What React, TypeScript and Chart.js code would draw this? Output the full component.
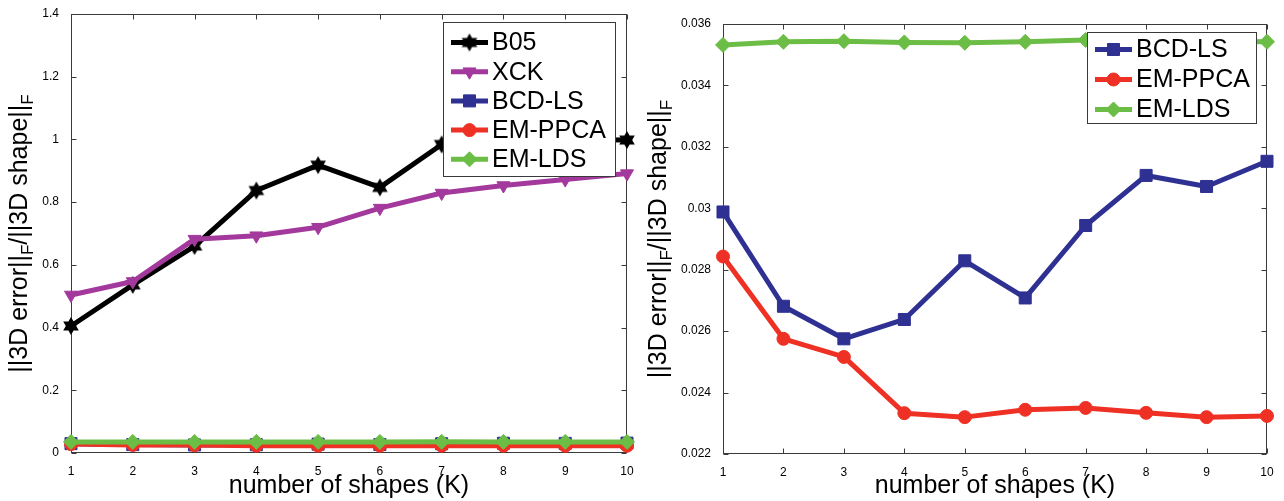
import React, { useEffect, useRef } from 'react';
import { Chart, registerables } from 'chart.js';
import { drawPoint } from 'chart.js/helpers';

Chart.register(...registerables);

// ---------- data ----------
const K = [1, 2, 3, 4, 5, 6, 7, 8, 9, 10];
const B05 = [0.405, 0.536, 0.66, 0.837, 0.918, 0.847, 0.984, 1.03, 1.0, 0.998];
const XCK = [0.504, 0.547, 0.682, 0.693, 0.72, 0.781, 0.829, 0.853, 0.872, 0.891];
const BCD_LS = [0.02988, 0.02681, 0.02575, 0.02638, 0.02829, 0.02708, 0.02944, 0.03107, 0.03071, 0.03153];
const EM_PPCA = [0.02843, 0.02575, 0.02516, 0.02333, 0.0232, 0.02344, 0.0235, 0.02334, 0.0232, 0.02324];
const EM_LDS = [0.03532, 0.03542, 0.03544, 0.0354, 0.03539, 0.03542, 0.03548, 0.03546, 0.03544, 0.03542];

const X_TICKS = [1, 2, 3, 4, 5, 6, 7, 8, 9, 10];
const Y_TICKS_LEFT = [0, 0.2, 0.4, 0.6, 0.8, 1, 1.2, 1.4];
const Y_TICKS_RIGHT = [0.022, 0.024, 0.026, 0.028, 0.03, 0.032, 0.034, 0.036];

const X_TITLE = 'number of shapes (K)';
const Y_TITLE_PARTS = [
  { t: '||3D error||', sub: false },
  { t: 'F', sub: true },
  { t: '/||3D shape||', sub: false },
  { t: 'F', sub: true },
];

const FONT = '"Liberation Sans", Arial, Helvetica, sans-serif';

const C_BLACK = '#000000';
const C_PURPLE = '#a3399c';
const C_NAVY = '#2e3192';
const C_RED = '#ee3124';
const C_GREEN = '#6cbd45';

function makeHexagram(color: string, R: number) {
  const size = Math.ceil(R * 2) + 2;
  const c = document.createElement('canvas');
  c.width = size;
  c.height = size;
  const ctx = c.getContext('2d')!;
  const cx = size / 2, cy = size / 2, r = R / Math.sqrt(3);
  ctx.beginPath();
  for (let i = 0; i < 12; i++) {
    const ang = -Math.PI / 2 + (i * Math.PI) / 6;
    const rad = i % 2 === 0 ? R : r;
    const x = cx + rad * Math.cos(ang), y = cy + rad * Math.sin(ang);
    if (i === 0) ctx.moveTo(x, y); else ctx.lineTo(x, y);
  }
  ctx.closePath();
  ctx.fillStyle = color;
  ctx.fill();
  return c;
}

type Spec = { label: string; color: string; values: number[]; pointStyle: any; radius: number; rotation?: number };

function seriesSpecs(): Record<string, Spec> {
  return {
    B05: { label: 'B05', color: C_BLACK, values: B05, pointStyle: makeHexagram(C_BLACK, 9), radius: 8 },
    XCK: { label: 'XCK', color: C_PURPLE, values: XCK, pointStyle: 'triangle', radius: 7.5, rotation: 180 },
    BCD: { label: 'BCD-LS', color: C_NAVY, values: BCD_LS, pointStyle: 'rect', radius: 8.5 },
    PPCA: { label: 'EM-PPCA', color: C_RED, values: EM_PPCA, pointStyle: 'circle', radius: 6.5 },
    LDS: { label: 'EM-LDS', color: C_GREEN, values: EM_LDS, pointStyle: 'rectRot', radius: 7.5 },
  };
}

type Cfg = {
  specs: Spec[];
  yTicks: number[];
  yMin: number;
  yMax: number;
  yAxisW: number;
  padTop: number;
  padRight: number;
  xAxisH: number;
  tickFont: number;
  legend: { x: number; y: number; w: number; h: number; first: number; step: number };
  yTitleX: number;
  xTitleY: number;
};

function fmt(v: number) {
  return parseFloat(Number(v).toFixed(4)).toString();
}

function createChart(canvas: HTMLCanvasElement, cfg: Cfg) {
  const n = cfg.specs.length;
  const datasets = cfg.specs.map((s, i) => ({
    label: s.label,
    data: K.map((k, j) => ({ x: k, y: s.values[j] })),
    borderColor: s.color,
    backgroundColor: s.color,
    pointBackgroundColor: s.color,
    pointBorderColor: s.color,
    borderWidth: 5,
    borderJoinStyle: 'round' as const,
    pointRadius: s.radius,
    pointStyle: s.pointStyle,
    pointRotation: s.rotation || 0,
    pointBorderWidth: 1,
    order: n - i,
    clip: false as any,
    tension: 0,
  }));

  const deco = {
    id: 'deco',
    beforeDatasetsDraw(chart: any) {
      const { ctx, chartArea: a, scales } = chart;
      ctx.save();
      ctx.strokeStyle = '#3a3a3a';
      ctx.lineWidth = 1;
      const L = Math.round(a.left) + 0.5, R = Math.round(a.right) - 0.5;
      const T = Math.round(a.top) + 0.5, B = Math.round(a.bottom) - 0.5;
      ctx.strokeRect(L, T, R - L, B - T);
      const tl = 5;
      ctx.beginPath();
      X_TICKS.forEach((v) => {
        const px = Math.round(scales.x.getPixelForValue(v)) + 0.5;
        ctx.moveTo(px, B); ctx.lineTo(px, B - tl);
        ctx.moveTo(px, T); ctx.lineTo(px, T + tl);
      });
      cfg.yTicks.forEach((v) => {
        const py = Math.round(scales.y.getPixelForValue(v)) + 0.5;
        ctx.moveTo(L, py); ctx.lineTo(L + tl, py);
        ctx.moveTo(R, py); ctx.lineTo(R - tl, py);
      });
      ctx.stroke();
      ctx.restore();
    },
    afterDraw(chart: any) {
      const { ctx, chartArea: a } = chart;
      ctx.save();
      // legend
      const lg = cfg.legend;
      ctx.fillStyle = '#ffffff';
      ctx.fillRect(lg.x, lg.y, lg.w, lg.h);
      ctx.strokeStyle = '#3a3a3a';
      ctx.lineWidth = 1;
      ctx.strokeRect(lg.x + 0.5, lg.y + 0.5, lg.w, lg.h);
      chart.data.datasets.forEach((ds: any, i: number) => {
        const y = lg.y + lg.first + i * lg.step;
        ctx.strokeStyle = ds.borderColor;
        ctx.lineWidth = 5;
        ctx.beginPath();
        ctx.moveTo(lg.x + 8, y);
        ctx.lineTo(lg.x + 45, y);
        ctx.stroke();
        ctx.fillStyle = ds.pointBackgroundColor;
        ctx.strokeStyle = ds.pointBorderColor;
        ctx.lineWidth = 1;
        drawPoint(ctx, { pointStyle: ds.pointStyle, rotation: ds.pointRotation, radius: ds.pointRadius, borderWidth: 1 } as any, lg.x + 26.5, y);
        ctx.fillStyle = '#000';
        ctx.font = `25px ${FONT}`;
        ctx.textAlign = 'left';
        ctx.textBaseline = 'middle';
        ctx.fillText(ds.label, lg.x + 49, y + 1);
      });
      // x title
      ctx.fillStyle = '#000';
      ctx.font = `25px ${FONT}`;
      ctx.textAlign = 'center';
      ctx.textBaseline = 'middle';
      ctx.fillText(X_TITLE, (a.left + a.right) / 2, cfg.xTitleY);
      // y title (rotated, with subscripts)
      const big = `25px ${FONT}`;
      const small = `17px ${FONT}`;
      let total = 0;
      Y_TITLE_PARTS.forEach((p) => {
        ctx.font = p.sub ? small : big;
        total += ctx.measureText(p.t).width;
      });
      ctx.translate(cfg.yTitleX, (a.top + a.bottom) / 2);
      ctx.rotate(-Math.PI / 2);
      ctx.textAlign = 'left';
      ctx.textBaseline = 'alphabetic';
      let x = -total / 2;
      Y_TITLE_PARTS.forEach((p) => {
        ctx.font = p.sub ? small : big;
        ctx.fillText(p.t, x, p.sub ? 6 : 0);
        x += ctx.measureText(p.t).width;
      });
      ctx.restore();
    },
  };

  return new Chart(canvas, {
    type: 'line',
    data: { datasets: datasets as any },
    options: {
      responsive: false,
      animation: false,
      events: [],
      layout: { padding: { top: cfg.padTop, right: cfg.padRight, left: 0, bottom: 0 } },
      plugins: { legend: { display: false }, tooltip: { enabled: false } },
      scales: {
        x: {
          type: 'linear',
          min: 1,
          max: 10,
          grid: { display: false },
          border: { display: false },
          afterBuildTicks: (s: any) => { s.ticks = X_TICKS.map((v) => ({ value: v })); },
          afterFit: (s: any) => { s.height = cfg.xAxisH; },
          ticks: {
            color: '#000',
            font: { family: FONT, size: cfg.tickFont },
            padding: 3,
            maxRotation: 0,
            autoSkip: false,
            callback: (v: any) => fmt(v),
          },
        },
        y: {
          type: 'linear',
          min: cfg.yMin,
          max: cfg.yMax,
          grid: { display: false },
          border: { display: false },
          afterBuildTicks: (s: any) => { s.ticks = cfg.yTicks.map((v) => ({ value: v })); },
          afterFit: (s: any) => { s.width = cfg.yAxisW; },
          ticks: {
            color: '#000',
            font: { family: FONT, size: cfg.tickFont },
            padding: 4,
            autoSkip: false,
            callback: (v: any) => fmt(v),
          },
        },
      },
    },
    plugins: [deco],
  });
}

export default function App() {
  const leftRef = useRef<HTMLCanvasElement>(null);
  const rightRef = useRef<HTMLCanvasElement>(null);

  useEffect(() => {
    const S = seriesSpecs();
    const left = createChart(leftRef.current!, {
      specs: [S.B05, S.XCK, S.BCD, S.PPCA, S.LDS],
      yTicks: Y_TICKS_LEFT,
      yMin: 0,
      yMax: 1.4,
      yAxisW: 71,
      padTop: 14,
      padRight: 15,
      xAxisH: 48,
      tickFont: 12,
      legend: { x: 443, y: 22, w: 172, h: 154, first: 20.5, step: 29.2 },
      yTitleX: 27,
      xTitleY: 486,
    });
    const right = createChart(rightRef.current!, {
      specs: [S.BCD, S.PPCA, S.LDS],
      yTicks: Y_TICKS_RIGHT,
      yMin: 0.022,
      yMax: 0.036,
      yAxisW: 81,
      padTop: 24,
      padRight: 17,
      xAxisH: 47,
      tickFont: 12,
      legend: { x: 445, y: 32, w: 169, h: 91, first: 17.5, step: 30 },
      yTitleX: 24,
      xTitleY: 486,
    });
    return () => {
      left.destroy();
      right.destroy();
    };
  }, []);

  return (
    <div style={{ position: 'fixed', left: 0, top: 0, width: 1284, height: 501, background: '#fff', display: 'flex' }}>
      <canvas ref={leftRef} width={642} height={501} style={{ display: 'block', width: 642, height: 501 }} />
      <canvas ref={rightRef} width={642} height={501} style={{ display: 'block', width: 642, height: 501 }} />
    </div>
  );
}
